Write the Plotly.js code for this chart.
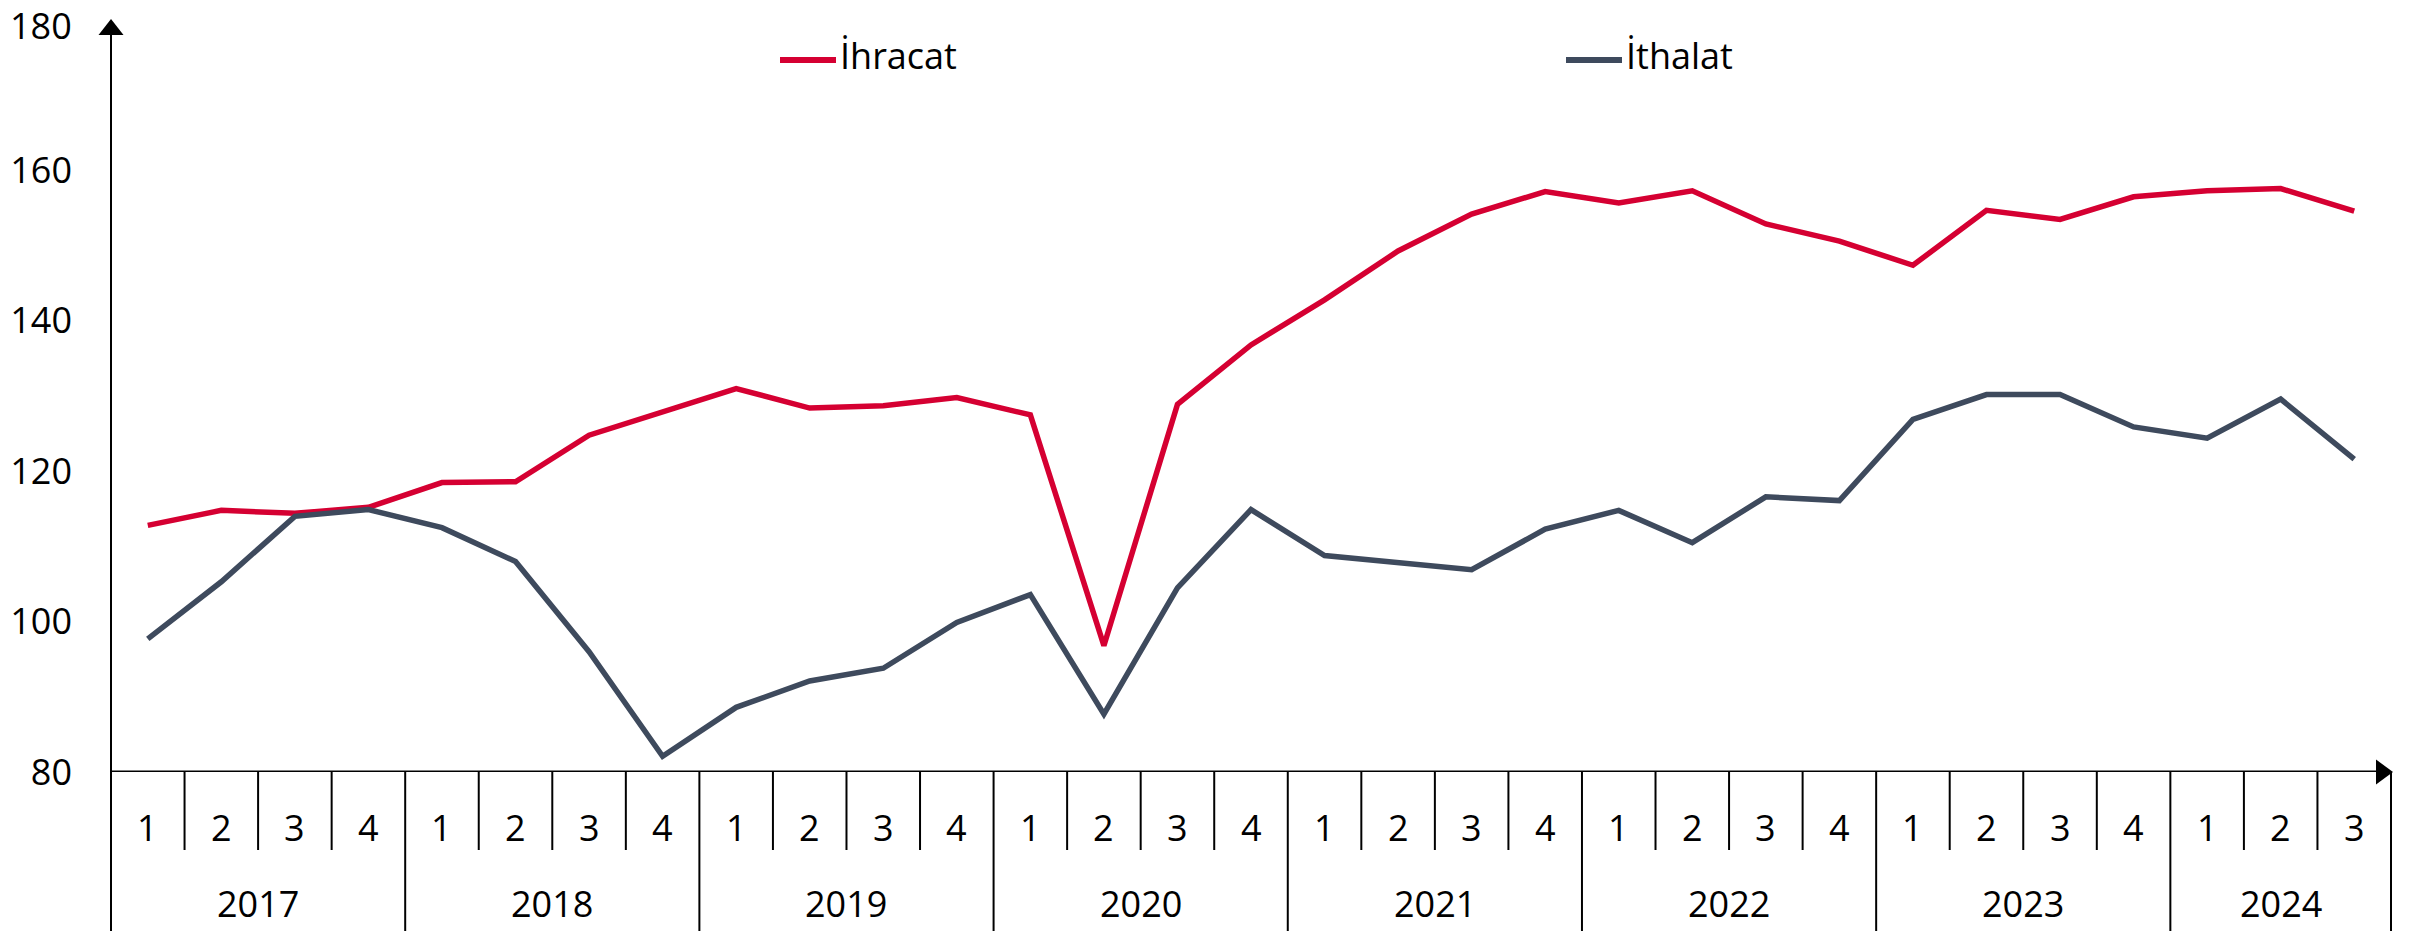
<!DOCTYPE html>
<html>
<head>
<meta charset="utf-8">
<script src="https://cdn.plot.ly/plotly-3.0.1.min.js"></script>
<style>
  html, body { margin: 0; padding: 0; background: #ffffff; }
  #chart { width: 2428px; height: 933px; }
</style>
</head>
<body>
<div id="chart"></div>
<script>
// ---- Data ----
const years = ['2017', '2018', '2019', '2020', '2021', '2022', '2023', '2024'];
const quartersPerYear = [4, 4, 4, 4, 4, 4, 4, 3];
const quarterLabels = [
  '1','2','3','4', '1','2','3','4', '1','2','3','4', '1','2','3','4',
  '1','2','3','4', '1','2','3','4', '1','2','3','4', '1','2','3'
];
const seriesNames = ['İhracat', 'İthalat'];
const ihracat = [112.8, 114.8, 114.4, 115.2, 118.5, 118.6, 124.8, 127.9,
                 131.0, 128.4, 128.7, 129.8, 127.5, 96.8, 128.9, 136.8,
                 142.8, 149.3, 154.2, 157.2, 155.7, 157.3, 152.9, 150.6,
                 147.4, 154.7, 153.5, 156.5, 157.3, 157.6, 154.6];
const ithalat = [97.7, 105.3, 114.0, 114.9, 112.5, 108.0, 96.0, 82.1,
                 88.6, 92.1, 93.8, 99.9, 103.6, 87.7, 104.5, 114.9,
                 108.8, 107.9, 106.9, 112.3, 114.8, 110.5, 116.6, 116.1,
                 126.9, 130.2, 130.2, 125.9, 124.4, 129.6, 121.6];
const yTicks = [80, 100, 120, 140, 160, 180];
const colors = ['#D50032', '#3E4A5D'];

// ---- Layout geometry (pixels) ----
const W = 2428, H = 933;
const M = { l: 111, r: 37, t: 20, b: 161 };
const PW = W - M.l - M.r, PH = H - M.t - M.b;
const n = quarterLabels.length;
const xIdx = quarterLabels.map((_, i) => i);
// pixel -> paper helpers
const px = (p) => (p - M.l) / PW;
const py = (p) => (H - M.b - p) / PH;
const idxToPaper = (x) => (x + 0.5) / n;

const FONT = 'Open Sans, Noto Sans, sans-serif';
const shapes = [];
const annotations = [];

// year boundaries
const yearStarts = [];
let acc = 0;
quartersPerYear.forEach((q) => { yearStarts.push(acc); acc += q; });
const yearBoundarySet = new Set(yearStarts.concat([n]));

// quarter separators and year separators
for (let b = 0; b <= n; b++) {
  const isYear = yearBoundarySet.has(b);
  shapes.push({
    type: 'line', xref: 'paper', yref: 'paper',
    x0: idxToPaper(b - 0.5), x1: idxToPaper(b - 0.5),
    y0: 0, y1: isYear ? py(931) : py(850),
    line: { color: '#000000', width: 2 }
  });
}
// y-axis line (up to arrow)
shapes.push({
  type: 'line', xref: 'paper', yref: 'paper',
  x0: 0, x1: 0, y0: py(931), y1: py(30),
  line: { color: '#000000', width: 2 }
});
// x-axis line
shapes.push({
  type: 'line', xref: 'paper', yref: 'y',
  x0: 0, x1: px(2380), y0: yTicks[0], y1: yTicks[0],
  line: { color: '#000000', width: 3 }
});
// arrowheads
const ax0 = M.l;
shapes.push({
  type: 'path', xref: 'paper', yref: 'paper',
  path: `M ${px(ax0)} ${py(19)} L ${px(ax0 - 12.5)} ${py(35)} L ${px(ax0 + 12.5)} ${py(35)} Z`,
  fillcolor: '#000000', line: { width: 0 }
});
const axY = H - M.b;
shapes.push({
  type: 'path', xref: 'paper', yref: 'paper',
  path: `M ${px(2393)} ${py(axY)} L ${px(2376)} ${py(axY - 12.5)} L ${px(2376)} ${py(axY + 12.5)} Z`,
  fillcolor: '#000000', line: { width: 0 }
});

// top y tick label (kept fully inside the page)
const topTick = yTicks[yTicks.length - 1];
annotations.push({
  x: px(74), y: topTick, xref: 'paper', yref: 'y', yshift: -5,
  text: String(topTick), showarrow: false, xanchor: 'right', yanchor: 'middle',
  font: { family: FONT, size: 36, color: '#000000' }
});

// quarter labels
quarterLabels.forEach((q, i) => {
  annotations.push({
    x: i, y: py(827), xref: 'x', yref: 'paper',
    text: q, showarrow: false, xanchor: 'center', yanchor: 'middle',
    font: { family: FONT, size: 36, color: '#000000' }
  });
});
// year labels
years.forEach((yr, k) => {
  const c = yearStarts[k] + (quartersPerYear[k] - 1) / 2;
  annotations.push({
    x: c, y: py(903), xref: 'x', yref: 'paper',
    text: yr, showarrow: false, xanchor: 'center', yanchor: 'middle',
    font: { family: FONT, size: 36, color: '#000000' }
  });
});

// manual legend
const legendItems = [
  { lx0: 780, lx1: 836, tx: 838 },
  { lx0: 1566, lx1: 1622, tx: 1624 }
];
legendItems.forEach((it, k) => {
  shapes.push({
    type: 'line', xref: 'paper', yref: 'paper',
    x0: px(it.lx0), x1: px(it.lx1), y0: py(60), y1: py(60),
    line: { color: colors[k], width: 6 }
  });
  annotations.push({
    x: px(it.tx), y: py(56), xref: 'paper', yref: 'paper',
    text: seriesNames[k], showarrow: false, xanchor: 'left', yanchor: 'middle',
    font: { family: FONT, size: 36, color: '#000000' }
  });
});

const traces = [ihracat, ithalat].map((vals, k) => ({
  type: 'scatter', mode: 'lines', name: seriesNames[k],
  x: xIdx, y: vals,
  line: { color: colors[k], width: 5.5 },
  hoverinfo: 'x+y', cliponaxis: false
}));

const layout = {
  width: W, height: H,
  margin: M,
  paper_bgcolor: '#ffffff', plot_bgcolor: '#ffffff',
  showlegend: false,
  xaxis: {
    range: [-0.5, n - 0.5], showgrid: false, zeroline: false,
    showticklabels: false, ticks: '', showline: false, fixedrange: true
  },
  yaxis: {
    range: [yTicks[0], topTick + 0.02],
    tickvals: yTicks.slice(0, -1), ticktext: yTicks.slice(0, -1).map(String),
    showgrid: false, zeroline: false, showline: false, ticks: '',
    ticklabelstandoff: 38,
    tickfont: { family: FONT, size: 36, color: '#000000' },
    fixedrange: true
  },
  shapes: shapes,
  annotations: annotations
};

Plotly.newPlot('chart', traces, layout, { displayModeBar: false, staticPlot: true });
</script>
</body>
</html>
